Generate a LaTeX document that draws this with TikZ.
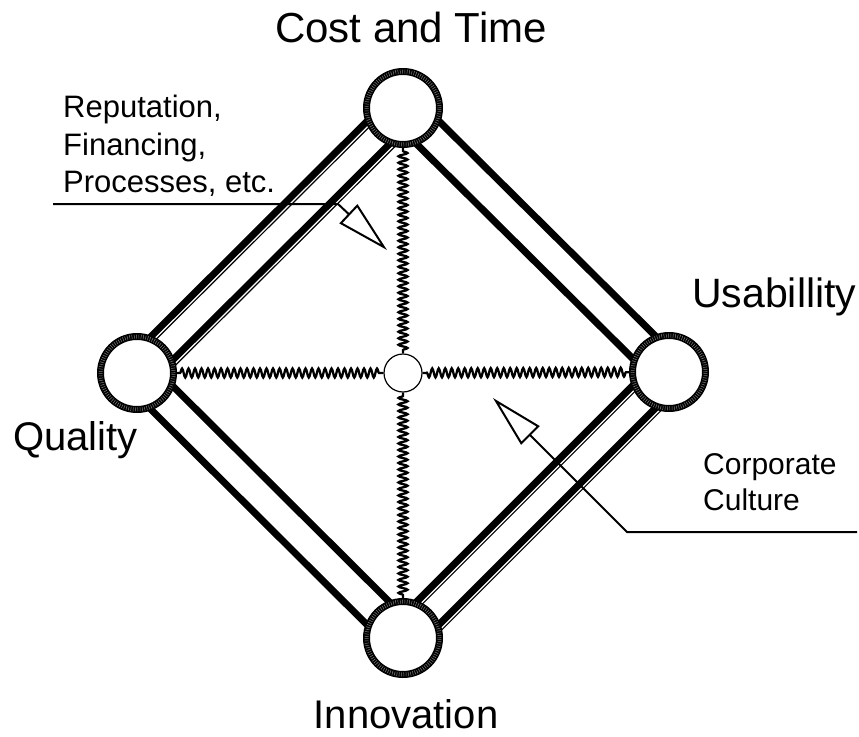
\documentclass[tikz,border=0pt]{standalone}
\usepackage{fontspec}
\setmainfont{Liberation Sans}
\usetikzlibrary{calc,arrows.meta,decorations.pathmorphing,backgrounds}

\begin{document}
\begin{tikzpicture}[x=1pt, y=-1pt,
  joint node/.style={circle,draw,fill=white,line width=7pt,minimum size=73pt,inner sep=0pt,
    postaction={draw=white!50!black,line width=4pt,dash pattern=on 0.5pt off 1.8pt}},
  hub node/.style={circle,draw,fill=white,line width=1.2pt,minimum size=38pt,inner sep=0pt},
  rail/.style={line width=7pt},
  rail shadow/.style={line width=1.2pt},
  spring/.style={line width=2.3pt,decorate,decoration={snake,segment length=6.5pt,amplitude=4.5pt,pre length=3pt,post length=3pt}},
  leader/.style={line width=2pt,-{Triangle[fill=white,length=53pt,width=26pt]}},
  label node/.style={inner sep=0pt}]
\useasboundingbox (0,0) rectangle (859,736);

% the four corners and the hub
\node [joint node] (cost) at (403,108) {};
\node [joint node] (qual) at (137,373) {};
\node [joint node] (usab) at (669,372) {};
\node [joint node] (innov) at (403,638) {};
\node [hub node] (hub) at (403,373) {};

\begin{pgfonlayer}{background}
% double rails along each side
\foreach \a/\b in {cost/qual, cost/usab, qual/innov, usab/innov}
  \foreach \s/\t in {90/-90, -90/90} {
    \draw [rail shadow] ($(\a)!16pt!\s:(\b)+(4,4)$) -- ($(\b)!16pt!\t:(\a)+(4,4)$);
    \draw [rail] ($(\a)!16pt!\s:(\b)$) -- ($(\b)!16pt!\t:(\a)$);
  }
% springs to the hub
\foreach \a in {cost, qual, usab, innov}
  \draw [spring] (\a) -- (hub);
\end{pgfonlayer}

% corner labels
\node [label node, font=\fontsize{42}{50}\selectfont, anchor=base] (t0) at (411,42) {Cost and Time};
\node [label node, font=\fontsize{41}{49}\selectfont, anchor=base west] (t1) at (692,307) {Usabillity};
\node [label node, font=\fontsize{40}{48}\selectfont, anchor=base west] (t2) at (13,450) {Quality};
\node [label node, font=\fontsize{40}{48}\selectfont, anchor=base] (t3) at (406,728) {Innovation};

% forces acting on the frame
\node [label node, font=\fontsize{31}{37.5}\selectfont, align=left, anchor=north west] (f0) at (63,95) {Reputation,\\Financing,\\Processes, etc.};
\node [label node, font=\fontsize{30}{36}\selectfont, align=left, anchor=north west] (f1) at (703,453) {Corporate\\Culture};

\coordinate (a0) at (53,204);
\coordinate (a1) at (338,204);
\coordinate (a2) at (387,250);
\draw [leader] (a0) -- (a1) -- (a2);
\coordinate (b0) at (857,532);
\coordinate (b1) at (627,532);
\coordinate (b2) at (493,398);
\draw [leader] (b0) -- (b1) -- (b2);
\end{tikzpicture}
\end{document}
